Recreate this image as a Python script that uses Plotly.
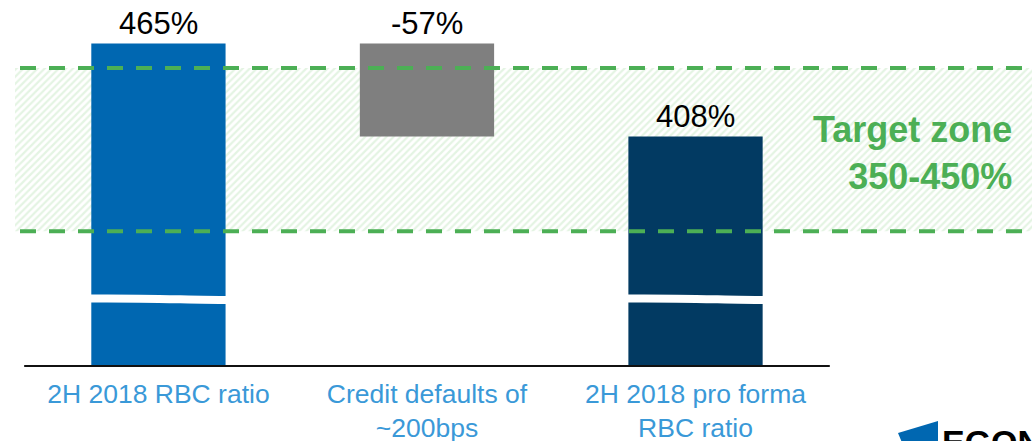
import plotly.graph_objects as go

# ---- data ----
categories = ["2H 2018 RBC ratio", "Credit defaults of<br>~200bps", "2H 2018 pro forma<br>RBC ratio"]
rbc_start = 465
credit_default_impact = -57
rbc_pro_forma = rbc_start + credit_default_impact  # 408
value_labels = ["465%", "-57%", "408%"]
target_low = 350
target_high = 450
target_text = "Target zone<br>350-450%"

# ---- style ----
FONT = "Liberation Sans, Arial, sans-serif"
BLUE = "#0067B1"
GRAY = "#7F7F7F"
NAVY = "#023A62"
GREEN = "#4CAF55"
LABEL_BLUE = "#3A99D8"

W, H = 1032, 441
PLOT_BOTTOM_PX = 366  # baseline position
Y_RANGE = [267.4, 491.7]
X_RANGE = [-0.590, 3.253]

xpos = list(range(len(categories)))

fig = go.Figure()

# target zone hatched band (drawn as a wide bar behind the data bars)
band_x0, band_x1 = -0.534, 3.3
fig.add_trace(go.Bar(
    x=[(band_x0 + band_x1) / 2], y=[target_high - target_low], base=[target_low],
    width=band_x1 - band_x0,
    marker=dict(color="white", line=dict(width=0),
                pattern=dict(shape="/", fgcolor="#c9e9c7", bgcolor="white", size=5, solidity=0.45)),
    hoverinfo="skip", showlegend=False,
))

# waterfall bars
bar_bases = [0, rbc_start, 0]
bar_heights = [rbc_start, credit_default_impact, rbc_pro_forma]
bar_colors = [BLUE, GRAY, NAVY]
fig.add_trace(go.Bar(
    x=xpos, y=bar_heights, base=bar_bases, width=0.5,
    marker=dict(color=bar_colors, line=dict(width=0)),
    showlegend=False, hoverinfo="skip",
))

tops = [max(b, b + h) for b, h in zip(bar_bases, bar_heights)]
for xi, top, lab in zip(xpos, tops, value_labels):
    fig.add_annotation(x=xi, y=top, text=lab, showarrow=False, yanchor="bottom",
                       yshift=1, font=dict(family=FONT, size=31, color="black"))

shapes = []
# dashed target lines
for v in (target_low, target_high):
    shapes.append(dict(type="line", xref="paper", yref="y", x0=20 / W, x1=1.0, y0=v, y1=v,
                       line=dict(color=GREEN, width=4, dash="16px,13px"), layer="above"))
# axis baseline
shapes.append(dict(type="line", xref="x", yref="paper", x0=-0.5, x1=2.5, y0=0, y1=0,
                   line=dict(color="#111111", width=2), layer="above"))
# axis-break marks on the tall bars
for xi in (0, 2):
    x0, x1 = xi - 0.26, xi + 0.26
    xa, xb = xi - 0.08, xi + 0.1
    shapes.append(dict(type="path", xref="x", yref="y",
                       path=f"M {x0},308.7 C {xa},309.1 {xb},308.0 {x1},307.8",
                       line=dict(color="white", width=8), layer="above"))

# logo (blue flag)
def px(xp, yp):
    return xp / W, (PLOT_BOTTOM_PX - yp) / PLOT_BOTTOM_PX

lx = [px(898, 433), px(938, 421), px(938, 445), px(903, 445)]
path = "M " + " L ".join(f"{a},{b}" for a, b in lx) + " Z"
shapes.append(dict(type="path", xref="paper", yref="paper", path=path,
                   fillcolor="#0067B1", line=dict(width=0)))
fig.update_layout(shapes=shapes)

# target zone text
fig.add_annotation(xref="paper", x=1014 / W, y=(target_low + target_high) / 2, yref="y",
                   text=target_text, showarrow=False, xanchor="right", yanchor="middle",
                   align="right", yshift=-3,
                   font=dict(family=FONT, size=36, color=GREEN, weight="bold"))

# logo text
lxp, lyp = px(940, 421)
fig.add_annotation(xref="paper", yref="paper", x=lxp, y=lyp, text="EGON", showarrow=False,
                   xanchor="left", yanchor="top",
                   font=dict(family=FONT, size=34, color="black", weight="bold"))

fig.update_layout(
    width=W, height=H,
    margin=dict(l=0, r=0, t=0, b=H - PLOT_BOTTOM_PX, pad=0, autoexpand=False),
    paper_bgcolor="white", plot_bgcolor="white",
    barmode="overlay",
    xaxis=dict(range=X_RANGE, tickvals=xpos, ticktext=categories, showgrid=False,
               zeroline=False, showline=False, ticks="", ticklabelstandoff=9,
               automargin=False,
               tickfont=dict(family=FONT, size=26.5, color=LABEL_BLUE)),
    yaxis=dict(range=Y_RANGE, visible=False, showgrid=False, zeroline=False, automargin=False),
    showlegend=False,
)

fig.write_html("out.html", config={"displayModeBar": False},
               post_script="document.body.style.margin='0';document.body.style.overflow='hidden';")
